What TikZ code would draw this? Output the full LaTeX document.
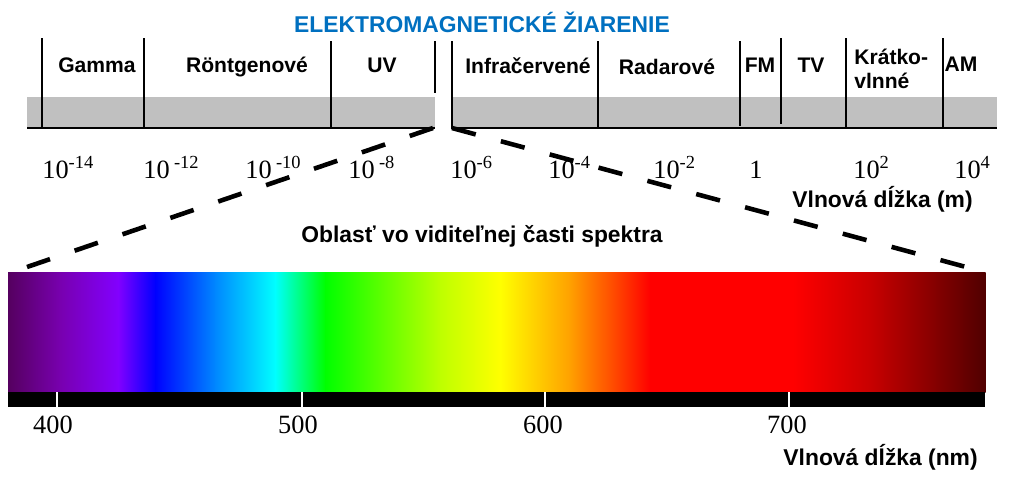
\documentclass[tikz,border=0pt]{standalone}
\usepackage{fontspec}
\setmainfont{Liberation Sans}
\newfontfamily\numfont{Liberation Serif}
\usetikzlibrary{positioning}

\definecolor{titleblue}{RGB}{0,112,192}
\definecolor{bandgray}{RGB}{192,192,192}
% colours of the visible spectrum
\definecolor{sp0}{RGB}{85,0,95}
\definecolor{sp1}{RGB}{120,0,175}
\definecolor{sp2}{RGB}{130,0,255}
\definecolor{sp3}{RGB}{0,0,255}
\definecolor{sp4}{RGB}{0,135,255}
\definecolor{sp5}{RGB}{0,255,255}
\definecolor{sp6}{RGB}{0,255,0}
\definecolor{sp7}{RGB}{190,255,0}
\definecolor{sp8}{RGB}{255,255,0}
\definecolor{sp9}{RGB}{255,160,0}
\definecolor{sp10}{RGB}{255,0,0}
\definecolor{sp11}{RGB}{200,0,0}
\definecolor{sp12}{RGB}{80,0,0}

\begin{document}
\begin{tikzpicture}[x=0.02cm,y=-0.02cm,
    band/.style={font=\bfseries\fontsize{12}{14}\selectfont, anchor=base, inner sep=0pt},
    axislabel/.style={font=\bfseries\fontsize{13}{15}\selectfont, inner sep=0pt},
    power/.style={font=\numfont\fontsize{15}{17}\selectfont, anchor=base west, inner sep=0pt},
    sep/.style={line width=1.1pt},
    zoomline/.style={line width=2.6pt, dash pattern=on 14pt off 14.8pt}]

    \useasboundingbox (0,0) rectangle (1012,485);

    \node[axislabel, text=titleblue, anchor=base] (title) at (482,32) {ELEKTROMAGNETICKÉ ŽIARENIE};

    % gray band with the gap
    \fill[bandgray] (27,97) rectangle (435,128);
    \fill[bandgray] (451,97) rectangle (997,128);
    \draw[sep] (27,128) -- (435,128);
    \draw[sep] (451,128) -- (997,128);
    \foreach \x/\ya/\yb in {42/38/127, 144/38/128, 331/41/128, 435/41/93, 452/41/128,
                            598/41/128, 740/41/126, 781/38/124, 846/38/128, 943/38/128}
        \draw[sep] (\x,\ya) -- (\x,\yb);

    \node[band] (gamma) at (97,72) {Gamma};
    \node[band] (xray) at (247,72) {Röntgenové};
    \node[band] (uv) at (382,72) {UV};
    \node[band] (ir) at (528,73) {Infračervené};
    \node[band] (radar) at (667,74) {Radarové};
    \node[band] (fm) at (760,72) {FM};
    \node[band] (tv) at (811,72) {TV};
    \node[band, anchor=base west] (kratko) at (854,64) {Krátko-};
    \node[band, anchor=base west] (vlnne) at (854,88) {vlnné};
    \node[band] (am) at (961,71) {AM};

    \foreach \x/\t in {42/10\textsuperscript{-14}, 143/10\,\textsuperscript{-12},
                       245/10\,\textsuperscript{-10}, 348/10\,\textsuperscript{-8},
                       450/10\textsuperscript{-6}, 548/10\textsuperscript{-4},
                       653/10\textsuperscript{-2}, 749/1, 853/10\textsuperscript{2},
                       954/10\textsuperscript{4}}
        \node[power] (pow\x) at (\x,178) {\t};

    \node[axislabel, anchor=base east] (unitm) at (973,207) {Vlnová dĺžka (m)};

    \node[axislabel, anchor=base] (visible) at (482,242) {Oblasť vo viditeľnej časti spektra};

    % visible spectrum
    \foreach \xa/\xb/\ca/\cb in {8/60/sp0/sp1, 60/118/sp1/sp2, 118/155/sp2/sp3,
                                 155/215/sp3/sp4, 215/275/sp4/sp5, 275/325/sp5/sp6,
                                 325/440/sp6/sp7, 440/500/sp7/sp8, 500/570/sp8/sp9,
                                 570/650/sp9/sp10, 650/793/sp10/sp10, 793/870/sp10/sp11,
                                 870/985/sp11/sp12}
        \shade[left color=\ca, right color=\cb] (\xa,272) rectangle (\xb+0.6,392);
    \fill[black] (8,392) rectangle (985,407);
    \foreach \x in {57,302,545,789}
        \draw[white, line width=1.6pt] (\x,392) -- (\x,407);

    \foreach \x/\l in {53/400, 298/500, 543/600, 787/700}
        \node[power, anchor=base] (nm\l) at (\x,433) {\l};

    \node[axislabel, anchor=base east] (unitnm) at (978,465) {Vlnová dĺžka (nm)};

    \coordinate (gapL) at (433,128);
    \coordinate (gapR) at (452,128);
    \coordinate (specL) at (27,267);
    \coordinate (specR) at (966,267);
    \draw[zoomline] (gapL) -- (specL);
    \draw[zoomline] (gapR) -- (specR);

\end{tikzpicture}
\end{document}
